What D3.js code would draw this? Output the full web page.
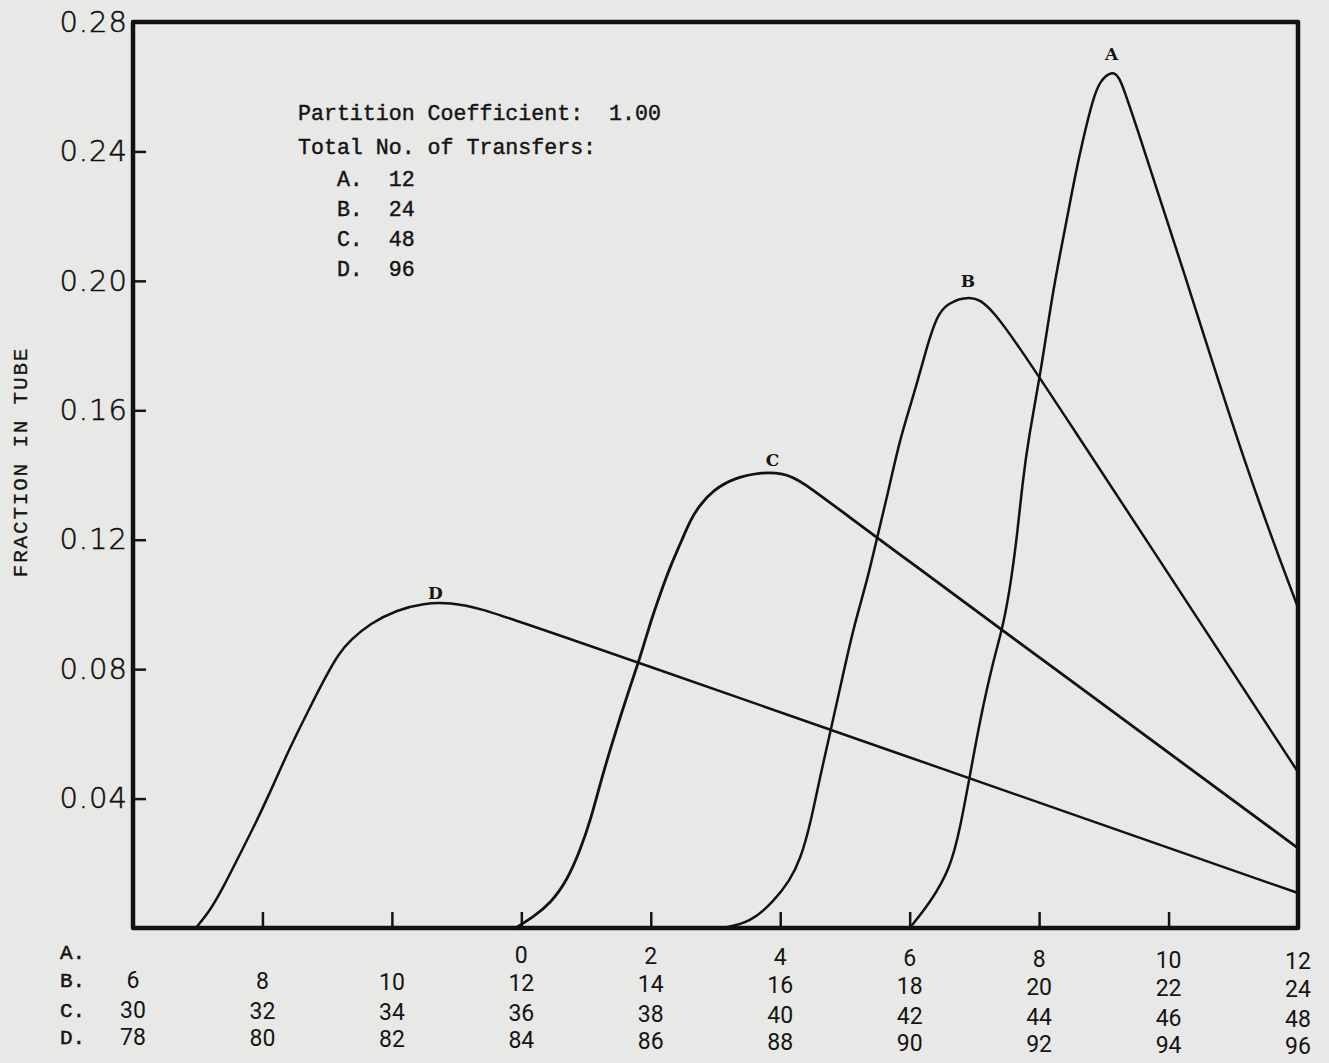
<!DOCTYPE html>
<html>
<head>
<meta charset="utf-8">
<script src="https://cdn.jsdelivr.net/npm/d3@7"></script>
<style>
  body { margin: 0; background: #e8e8e6; }
  svg { display: block; }
  .mono { font-family: "Liberation Mono", "DejaVu Sans Mono", monospace; fill: #141414; }
</style>
</head>
<body>
<svg></svg>
<script>
// series: total number of transfers for each curve
const seriesNames = ["A", "B", "C", "D"];
const transfers = [12, 24, 48, 96];
// tube number that sits at axis position 0 for each row
const tubeOffset = [0, 12, 36, 84];
// tube where each curve's letter is written
const labelTube = [9.12, 18.9, 39.88, 82.67];

// curve A (tube no., fraction in tube)
const tubesA = [6.0, 6.32, 6.63, 6.78, 6.93, 7.09, 7.29, 7.44, 7.56, 7.67, 7.74, 7.84, 8.02, 8.22, 8.43, 8.53, 8.68, 8.83, 8.94, 9.14, 9.25, 9.45, 10.18, 11.21, 12.0];
const fracA = [0, 0.0079, 0.0185, 0.0309, 0.047, 0.0646, 0.0825, 0.093, 0.106, 0.123, 0.137, 0.152, 0.171, 0.198, 0.219, 0.23, 0.244, 0.256, 0.262, 0.265, 0.263, 0.251, 0.2065, 0.141, 0.099];

// curve B
const tubesB = [15.12, 15.54, 15.90, 16.15, 16.31, 16.46, 16.62, 16.77, 16.93, 17.13, 17.34, 17.49, 17.65, 17.85, 18.06, 18.27, 18.42, 18.57, 18.93, 19.24, 20.02, 24.0];
const fracB = [0, 0.0017, 0.0082, 0.0147, 0.0212, 0.0316, 0.0472, 0.0602, 0.0746, 0.0928, 0.1071, 0.1201, 0.1331, 0.1513, 0.1644, 0.18, 0.1891, 0.193, 0.1956, 0.1929, 0.170, 0.0482];

// curve C
const tubesC = [35.91, 36.19, 36.45, 36.71, 36.91, 37.07, 37.22, 37.37, 37.53, 37.68, 37.84, 37.99, 38.15, 38.30, 38.46, 38.61, 38.76, 38.97, 39.28, 39.69, 40.05, 40.31, 41.08, 48];
const fracC = [0, 0.0035, 0.0076, 0.0148, 0.0241, 0.0334, 0.0447, 0.055, 0.0653, 0.0746, 0.0839, 0.0942, 0.1035, 0.1117, 0.1189, 0.1261, 0.1308, 0.1354, 0.139, 0.1409, 0.1406, 0.1385, 0.1267, 0.0247];

// curve D
const tubesD = [78.97, 79.20, 79.40, 79.66, 79.92, 80.18, 80.43, 80.69, 80.95, 81.18, 81.36, 81.67, 82.08, 82.49, 82.90, 83.37, 84.14, 96];
const fracD = [0, 0.0056, 0.0128, 0.0231, 0.0334, 0.0447, 0.056, 0.0664, 0.0767, 0.0849, 0.089, 0.0942, 0.0983, 0.1004, 0.1006, 0.0988, 0.0937, 0.0108];

// y ticks
const yTicks = [0.04, 0.08, 0.12, 0.16, 0.20, 0.24, 0.28];

// bottom label rows (one per curve), positions on the A scale
const labelPos = [-6, -4, -2, 0, 2, 4, 6, 8, 10, 12];
const rowA = ["", "", "", "0", "2", "4", "6", "8", "10", "12"];
const rowB = ["6", "8", "10", "12", "14", "16", "18", "20", "22", "24"];
const rowC = ["30", "32", "34", "36", "38", "40", "42", "44", "46", "48"];
const rowD = ["78", "80", "82", "84", "86", "88", "90", "92", "94", "96"];

const width = 1329, height = 1063;
const plotLeft = 133, plotRight = 1298, plotTop = 22, plotBottom = 928;
const nb = s => s.replace(/ /g, "\u00A0");   // keep typewriter spacing

const svg = d3.select("svg")
  .attr("width", width)
  .attr("height", height);

const x = d3.scaleLinear().domain([-6, 12]).range([plotLeft, plotRight]);
const y = d3.scaleLinear().domain([0, 0.28]).range([plotBottom, plotTop]);

// y axis: ticks point inward
const yAxis = svg.append("g")
  .attr("transform", `translate(${plotLeft},0)`)
  .call(d3.axisLeft(y).tickValues(yTicks).tickFormat(d3.format(".2f"))
    .tickSizeInner(-13).tickSizeOuter(0).tickPadding(5));
yAxis.select(".domain").remove();
yAxis.selectAll("line").attr("stroke", "#151515").attr("stroke-width", 2.5);
yAxis.selectAll("text")
  .attr("fill", "#0e0e0e")
  .attr("stroke", "#0e0e0e").attr("stroke-width", 0.5)
  .style("font-family", "'DejaVu Sans', sans-serif")
  .style("font-weight", 200)
  .style("font-size", "29px")
  .style("letter-spacing", "1px");

// x axis ticks (labels drawn as rows below)
const xAxis = svg.append("g")
  .attr("transform", `translate(0,${plotBottom})`)
  .call(d3.axisBottom(x).tickValues([-4, -2, 0, 2, 4, 6, 8, 10]).tickFormat("")
    .tickSizeInner(-16).tickSizeOuter(0));
xAxis.select(".domain").remove();
xAxis.selectAll("line").attr("stroke", "#151515").attr("stroke-width", 2.5);

// frame
svg.append("rect")
  .attr("x", plotLeft).attr("y", plotTop)
  .attr("width", plotRight - plotLeft).attr("height", plotBottom - plotTop)
  .attr("fill", "none")
  .attr("stroke", "#111")
  .attr("stroke-width", 4.5)
  .attr("stroke-linejoin", "round");

// curves
const tubes = [tubesA, tubesB, tubesC, tubesD];
const fracs = [fracA, fracB, fracC, fracD];
const line = d3.line().curve(d3.curveBasis);

tubes.forEach((t, i) => {
  const pts = t.map((v, j) => [x(v - tubeOffset[i]), y(fracs[i][j])]);
  svg.append("path")
    .attr("d", line(pts))
    .attr("fill", "none")
    .attr("stroke", "#121212")
    .attr("stroke-width", i == 2 ? 2.8 : 2.5)
    .attr("stroke-linejoin", "round");
});

// curve letters just above each peak
tubes.forEach((t, i) => {
  svg.append("text")
    .attr("x", x(labelTube[i] - tubeOffset[i]))
    .attr("y", y(d3.max(fracs[i])) - 11 + i * 2.5)
    .attr("text-anchor", "middle")
    .style("font-family", "'DejaVu Serif', serif")
    .style("font-weight", "bold")
    .style("font-size", "17px")
    .attr("fill", "#151515")
    .text(seriesNames[i]);
});

// legend text (typewriter)
const note = svg.append("g").attr("class", "mono")
  .style("font-size", "21.6px");
const noteLines = ["Partition Coefficient:  1.00", "Total No. of Transfers:"]
  .concat(seriesNames.map((s, i) => `   ${s}.  ${transfers[i]}`));
const noteY = [120, 154, 186, 216, 246, 276];
noteLines.forEach((s, i) => {
  note.append("text")
    .attr("x", 298).attr("y", noteY[i])
    .attr("stroke", "#141414").attr("stroke-width", 0.45)
    .text(nb(s));
});

// y axis title
svg.append("text")
  .attr("class", "mono")
  .attr("transform", "translate(27,462) rotate(-90)")
  .attr("text-anchor", "middle")
  .attr("stroke", "#141414").attr("stroke-width", 0.3)
  .style("font-size", "21px")
  .style("letter-spacing", "1.8px")
  .text("FRACTION IN TUBE");

// bottom label rows
const rows = [rowA, rowB, rowC, rowD];
const rowY = [952, 980, 1010, 1037];
rows.forEach((row, r) => {
  svg.append("text")
    .attr("class", "mono")
    .attr("x", 60).attr("y", rowY[r])
    .attr("dy", "0.35em")
    .style("font-size", "21px")
    .attr("stroke", "#141414").attr("stroke-width", 0.5)
    .text(seriesNames[r] + ".");
  svg.selectAll(null)
    .data(row.map((s, i) => ({ s, p: labelPos[i] })))
    .join("text")
    .attr("x", d => x(d.p))
    .attr("y", d => rowY[r] + 0.008 * (x(d.p) - plotLeft))
    .attr("dy", "0.35em")
    .attr("text-anchor", "middle")
    .style("font-family", "Roboto, sans-serif")
    .style("font-size", "23px")
    .attr("fill", "#141414")
    .text(d => d.s);
});
</script>
</body>
</html>
